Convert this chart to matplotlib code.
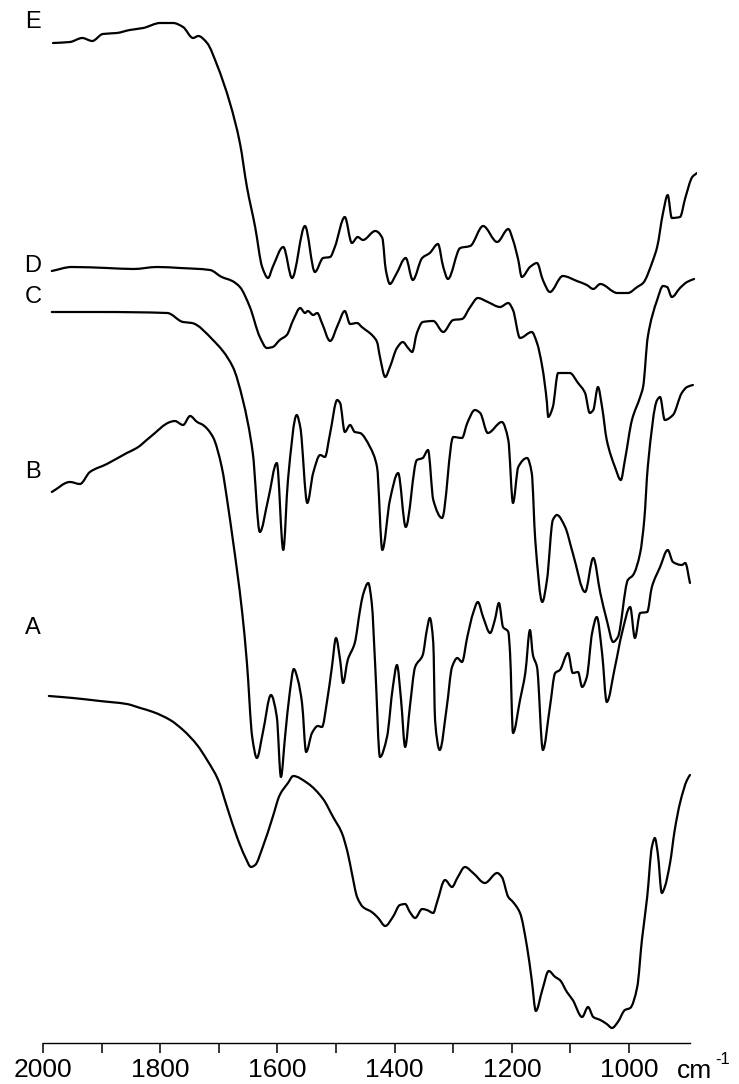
import matplotlib
matplotlib.use("Agg")
import matplotlib.pyplot as plt
import numpy as np
from matplotlib.path import Path
from matplotlib.patches import PathPatch
from matplotlib.ticker import FixedLocator, FixedFormatter

plt.rcParams['font.family'] = ['Liberation Sans', 'DejaVu Sans']

# wavenumber (cm-1) and relative transmittance (arbitrary units, stacked)
E_w = [1983,1954,1933,1916,1898,1874,1852,1829,1800,1778,1761,1744,1735,1720,1703,1681,1664,1652,1638,1626,1616,1608,1590,1575,1553,1536,1522,1510,1502,1485,1473,1463,1454,1433,1421,1415,1408,1398,1381,1369,1353,1340,1326,1317,1309,1288,1271,1249,1225,1206,1198,1189,1183,1169,1157,1147,1135,1113,1089,1072,1061,1049,1020,1002,986,976,959,952,942,934,927,913,904,892,884]
E_v = [1000,1001,1005,1002,1009,1010,1013,1015,1020,1020,1016,1005,1007,1000,978,940,900,856,816,776,765,776,796,765,817,771,785,786,796,826,800,806,803,812,805,773,759,768,785,763,785,790,799,776,764,795,797,817,801,814,803,783,766,776,780,763,751,767,762,758,754,759,750,750,756,760,783,796,830,848,825,826,845,866,870]

D_w = [1985,1951,1891,1846,1805,1766,1715,1695,1677,1664,1647,1630,1618,1608,1596,1584,1573,1561,1553,1548,1539,1532,1524,1510,1497,1485,1476,1464,1456,1437,1430,1425,1416,1408,1396,1386,1377,1370,1362,1352,1334,1317,1300,1285,1271,1258,1241,1220,1206,1198,1186,1166,1157,1148,1140,1138,1130,1121,1101,1087,1075,1067,1061,1053,1046,1038,1024,1014,1007,995,981,976,968,952,942,935,927,913,901,889]
D_v = [772,776,775,774,776,775,773,766,762,756,736,706,695,696,703,708,723,735,730,732,728,730,720,702,718,732,719,720,716,707,701,686,666,676,695,701,695,691,710,721,722,711,723,724,736,745,741,736,740,733,705,711,700,676,640,626,636,670,670,660,650,630,633,656,636,603,576,563,583,623,646,656,706,743,757,756,746,755,761,764]

C_w = [1985,1903,1788,1761,1746,1710,1676,1659,1642,1630,1616,1601,1590,1582,1567,1561,1549,1539,1527,1519,1510,1498,1493,1485,1476,1468,1459,1442,1430,1421,1408,1394,1381,1362,1352,1343,1334,1319,1300,1285,1276,1263,1254,1241,1217,1206,1198,1189,1174,1166,1160,1148,1140,1130,1123,1109,1096,1075,1061,1049,1038,1027,1019,1002,993,981,974,968,952,947,939,925,910,901,891]
C_v = [731,731,730,721,720,703,676,643,590,511,543,580,493,563,628,616,540,570,588,586,610,643,640,611,618,611,610,596,576,493,543,570,516,583,585,593,543,525,606,605,620,633,630,610,621,603,540,576,585,570,503,441,463,523,528,516,490,451,485,450,423,401,406,463,468,490,523,576,643,646,623,628,650,656,658]

B_w = [1985,1954,1937,1920,1891,1857,1840,1817,1783,1775,1761,1749,1737,1727,1710,1695,1684,1676,1669,1660,1652,1643,1635,1625,1611,1601,1594,1587,1579,1572,1565,1558,1551,1541,1531,1524,1515,1507,1500,1493,1488,1480,1468,1459,1454,1445,1439,1433,1425,1413,1403,1396,1389,1382,1374,1365,1352,1345,1340,1334,1331,1323,1311,1302,1293,1285,1276,1266,1258,1249,1237,1229,1222,1215,1206,1203,1198,1186,1177,1169,1164,1157,1147,1135,1126,1118,1104,1096,1087,1080,1072,1063,1055,1046,1038,1024,1012,998,990,981,969,961,947,934,925,910,904,896]
B_v = [551,561,559,571,579,590,595,606,621,622,618,627,621,618,606,576,536,503,473,430,380,306,285,310,348,326,266,306,350,374,363,340,291,310,317,316,343,376,405,383,360,383,400,433,448,460,440,376,286,306,356,378,343,296,336,376,388,413,425,400,323,293,336,376,385,381,406,430,441,426,410,423,440,416,411,390,310,343,370,413,388,376,293,336,370,373,390,370,371,356,366,410,426,390,341,376,410,436,405,430,431,456,476,493,481,478,480,460]

A_w = [1990,1949,1903,1857,1834,1812,1783,1761,1737,1720,1701,1686,1669,1655,1645,1638,1625,1608,1596,1582,1573,1549,1522,1505,1490,1480,1473,1464,1454,1439,1428,1416,1403,1391,1382,1374,1365,1353,1345,1334,1328,1314,1302,1293,1280,1266,1246,1225,1217,1206,1198,1186,1174,1166,1159,1148,1137,1126,1118,1106,1096,1080,1070,1061,1049,1038,1029,1019,1007,998,986,978,969,961,956,951,944,939,930,922,913,901,896]
A_v = [347,345,342,339,335,331,323,313,298,283,263,236,206,186,176,178,196,226,248,260,267,260,244,226,210,190,170,146,136,131,125,117,126,138,139,131,125,134,133,130,140,163,156,165,176,170,160,170,166,146,141,130,96,63,32,53,72,66,63,51,43,26,36,26,23,19,15,21,33,35,56,103,146,196,205,190,150,156,180,213,240,263,268]

series = [("A", A_w, A_v), ("B", B_w, B_v), ("C", C_w, C_v), ("D", D_w, D_v), ("E", E_w, E_v)]
# curve labels: (figure pixel x, figure pixel y from top)
label_xy = {"E": (33, 22), "D": (33, 266), "C": (33, 297), "B": (33, 472), "A": (33, 628)}

tick_vals = list(range(2000, 999, -100))
tick_labels = [str(t) if t % 200 == 0 else "" for t in tick_vals]


def smooth_path(x, y):
    """Monotone cubic (PCHIP) curve through the points, drawn as Bezier segments."""
    x = np.asarray(x, float)
    y = np.asarray(y, float)
    h = np.diff(x)
    d = np.diff(y) / h
    n = len(x)
    m = np.zeros(n)
    m[0], m[-1] = d[0], d[-1]
    for i in range(1, n - 1):
        if d[i - 1] * d[i] <= 0:
            m[i] = 0.0
        else:
            w1 = 2 * abs(h[i]) + abs(h[i - 1])
            w2 = abs(h[i]) + 2 * abs(h[i - 1])
            m[i] = (w1 + w2) / (w1 / d[i - 1] + w2 / d[i])
    verts = [(x[0], y[0])]
    codes = [Path.MOVETO]
    for i in range(n - 1):
        hi = h[i]
        verts += [(x[i] + hi / 3, y[i] + m[i] * hi / 3),
                  (x[i + 1] - hi / 3, y[i + 1] - m[i + 1] * hi / 3),
                  (x[i + 1], y[i + 1])]
        codes += [Path.CURVE4] * 3
    return Path(verts, codes)


W, H = 739, 1084
fig = plt.figure(figsize=(W / 100, H / 100), dpi=100)
ax = fig.add_axes([43 / W, (H - 1043) / H, (697 - 43) / W, 1043 / H])
ax.set_xlim(2000, 884)
ax.set_ylim(0, 1043)

for name, w, v in series:
    ax.add_patch(PathPatch(smooth_path(w, v), facecolor="none", edgecolor="black",
                           lw=1.6, joinstyle="round", capstyle="round"))

for name, (px, py) in label_xy.items():
    fig.text(px / W, 1 - py / H, name, fontsize=17, ha="center", va="center", color="black")

for s in ["top", "right", "left"]:
    ax.spines[s].set_visible(False)
ax.spines["bottom"].set_bounds(2000, 896)
ax.spines["bottom"].set_linewidth(1.0)
ax.set_yticks([])
ax.xaxis.set_major_locator(FixedLocator(tick_vals))
ax.xaxis.set_major_formatter(FixedFormatter(tick_labels))
ax.tick_params(axis="x", direction="out", length=7, width=1.1, pad=4, labelsize=19)

fig.text(677 / W, 1 - 1078 / H, "cm", fontsize=19, ha="left", va="baseline")
fig.text(715 / W, 1 - 1064 / H, "-1", fontsize=12, ha="left", va="baseline")

fig.savefig("out.png", dpi=100)
